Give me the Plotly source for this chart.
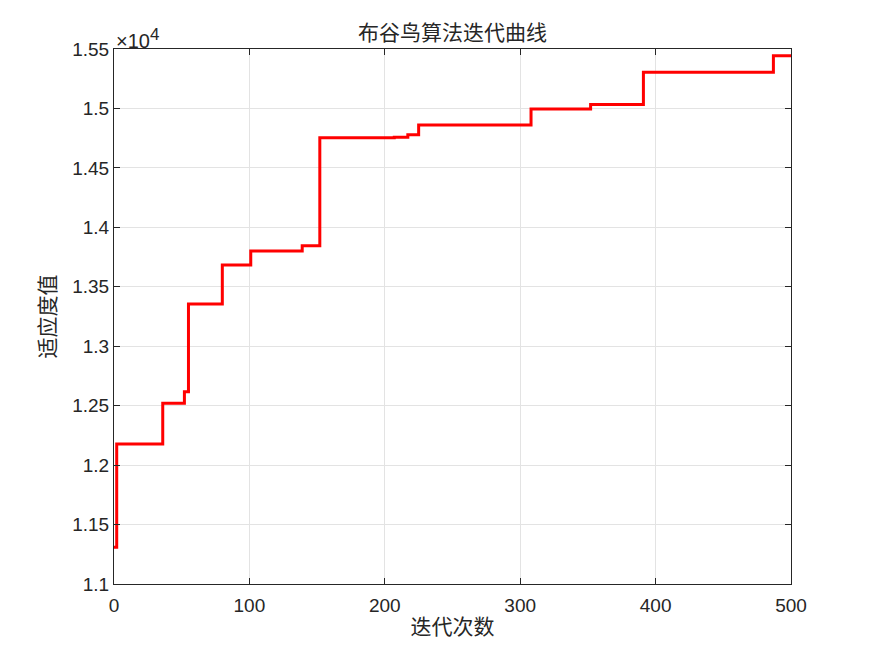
import plotly.graph_objects as go

# step change points (iteration) and fitness values
iters = [0, 2, 36, 52, 55, 80, 101, 139, 152, 207, 217, 225, 308, 352, 391, 487, 500]
fitness = [11310, 12178, 12520, 12617, 13355, 13683, 13800, 13845, 14754, 14757, 14779, 14860,
           14995, 15034, 15304, 15443, 15443]
x_ticks = [0, 100, 200, 300, 400, 500]
y_ticks = [1.1, 1.15, 1.2, 1.25, 1.3, 1.35, 1.4, 1.45, 1.5, 1.55]
y_ticktext = ["1.1", "1.15", "1.2", "1.25", "1.3", "1.35", "1.4", "1.45", "1.5", "1.55"]
scale = 1e4

y_scaled = [v / scale for v in fitness]

fig = go.Figure()
fig.add_trace(go.Scatter(x=iters, y=y_scaled, mode="lines", line_shape="hv",
                         line=dict(color="#ff0000", width=3), showlegend=False))

axis_common = dict(showline=True, linecolor="#262626", linewidth=1, mirror="ticks",
                   ticks="inside", ticklen=6, tickcolor="#262626",
                   showgrid=True, gridcolor="#e3e3e3", gridwidth=1, zeroline=False,
                   tickfont=dict(family="Liberation Sans, Arial", size=19, color="#262626"))

fig.update_xaxes(range=[0, 500], tickvals=x_ticks, ticklabelstandoff=4,
                 title=dict(text="迭代次数", font=dict(family="Noto Sans CJK SC", size=21, color="#262626"), standoff=4),
                 **axis_common)
fig.update_yaxes(range=[1.1, 1.55], tickvals=y_ticks, ticktext=y_ticktext,
                 title=dict(text="适应度值", font=dict(family="Noto Sans CJK SC", size=21, color="#262626"), standoff=10),
                 **axis_common)

fig.add_annotation(xref="paper", yref="paper", x=0, y=1, xanchor="left", yanchor="bottom",
                   text="×10<sup><span style='font-size:17px'>4</span></sup>", showarrow=False, yshift=-5,
                   font=dict(family="Liberation Sans, Arial", size=20, color="#262626"))

fig.update_layout(
    width=875, height=656,
    margin=dict(l=106, r=92, t=41, b=80),
    paper_bgcolor="white", plot_bgcolor="white",
    title=dict(text="布谷鸟算法迭代曲线", x=0.508, xanchor="center", y=1 - 25 / 656, yanchor="middle",
               font=dict(family="Noto Sans CJK SC", size=21, color="#262626")),
)

fig.write_html("out.html")
